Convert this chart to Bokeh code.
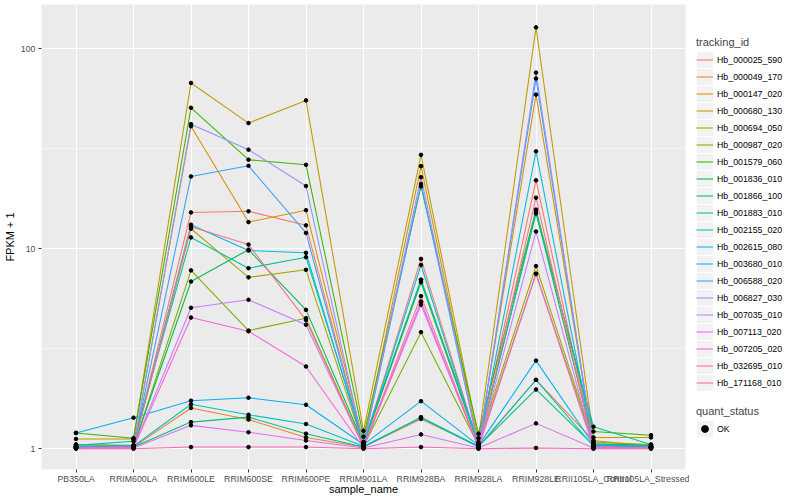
from bokeh.plotting import figure
from bokeh.layouts import row
from bokeh.models import FactorRange, Range1d, FixedTicker, Legend, LegendItem, PrintfTickFormatter
from bokeh.embed import file_html
from bokeh.resources import INLINE

samples = ["PB350LA", "RRIM600LA", "RRIM600LE", "RRIM600SE", "RRIM600PE", "RRIM901LA",
           "RRIM928BA", "RRIM928LA", "RRIM928LE", "RRII105LA_Control", "RRII105LA_Stressed"]

tracking_ids = ["Hb_000025_590", "Hb_000049_170", "Hb_000147_020", "Hb_000680_130", "Hb_000694_050",
                "Hb_000987_020", "Hb_001579_060", "Hb_001836_010", "Hb_001866_100", "Hb_001883_010",
                "Hb_002155_020", "Hb_002615_080", "Hb_003680_010", "Hb_006588_020", "Hb_006827_030",
                "Hb_007035_010", "Hb_007113_020", "Hb_007205_020", "Hb_032695_010", "Hb_171168_010"]

colors = ["#F8766D", "#EA8331", "#D89000", "#C09B00", "#A3A500", "#7CAE00", "#39B600", "#00BB4E",
          "#00BF7D", "#00C1A3", "#00BFC4", "#00BAE0", "#00B0F6", "#35A2FF", "#9590FF", "#C77CFF",
          "#E76BF3", "#FA62DB", "#FF62BC", "#FF6C91"]

# FPKM + 1 per sample (same order as samples)
hb_000025_590 = [1.02, 1.03, 15.2, 15.4, 13.1, 1.05, 8.9, 1.05, 22.0, 1.04, 1.02]
hb_000049_170 = [1.03, 1.02, 1.60, 1.40, 1.14, 1.02, 1.41, 1.03, 2.21, 1.10, 1.03]
hb_000147_020 = [1.05, 1.03, 41.0, 13.6, 15.6, 1.08, 25.9, 1.06, 59.0, 1.05, 1.02]
hb_000680_130 = [1.12, 1.12, 67.5, 42.5, 55.2, 1.23, 29.5, 1.13, 128.0, 1.14, 1.14]
hb_000694_050 = [1.05, 1.04, 12.6, 7.2, 7.85, 1.04, 7.0, 1.08, 8.2, 1.08, 1.05]
hb_000987_020 = [1.03, 1.02, 7.8, 3.9, 4.5, 1.03, 3.83, 1.04, 7.5, 1.05, 1.03]
hb_001579_060 = [1.20, 1.13, 50.7, 27.9, 26.3, 1.15, 20.5, 1.19, 15.7, 1.22, 1.17]
hb_001836_010 = [1.02, 1.03, 6.86, 9.9, 4.95, 1.06, 6.8, 1.04, 15.3, 1.06, 1.04]
hb_001866_100 = [1.01, 1.02, 1.36, 1.44, 1.19, 1.02, 1.44, 1.03, 1.98, 1.04, 1.02]
hb_001883_010 = [1.04, 1.09, 11.4, 8.0, 9.08, 1.08, 7.0, 1.05, 15.0, 1.29, 1.05]
hb_002155_020 = [1.02, 1.03, 1.67, 1.48, 1.33, 1.03, 1.43, 1.02, 2.21, 1.03, 1.02]
hb_002615_080 = [1.03, 1.04, 13.2, 9.8, 9.55, 1.05, 8.3, 1.04, 30.7, 1.04, 1.03]
hb_003680_010 = [1.20, 1.43, 1.74, 1.80, 1.66, 1.05, 1.73, 1.04, 2.76, 1.05, 1.02]
hb_006588_020 = [1.02, 1.03, 23.0, 26.0, 12.0, 1.04, 21.1, 1.03, 71.0, 1.03, 1.02]
hb_006827_030 = [1.01, 1.02, 42.0, 31.3, 20.6, 1.03, 22.8, 1.02, 76.0, 1.02, 1.01]
hb_007035_010 = [1.01, 1.02, 5.07, 5.56, 4.17, 1.02, 5.25, 1.02, 12.2, 1.02, 1.01]
hb_007113_020 = [1.01, 1.01, 1.31, 1.21, 1.10, 1.01, 1.18, 1.01, 1.34, 1.01, 1.01]
hb_007205_020 = [1.01, 1.01, 4.53, 3.87, 2.58, 1.01, 5.45, 1.01, 7.5, 1.01, 1.01]
hb_032695_010 = [1.00, 1.00, 1.02, 1.02, 1.02, 1.00, 1.02, 1.00, 1.01, 1.00, 1.00]
hb_171168_010 = [1.01, 1.02, 12.9, 10.5, 4.4, 1.02, 5.8, 1.02, 18.0, 1.02, 1.01]

series = [hb_000025_590, hb_000049_170, hb_000147_020, hb_000680_130, hb_000694_050,
          hb_000987_020, hb_001579_060, hb_001836_010, hb_001866_100, hb_001883_010,
          hb_002155_020, hb_002615_080, hb_003680_010, hb_006588_020, hb_006827_030,
          hb_007035_010, hb_007113_020, hb_007205_020, hb_032695_010, hb_171168_010]

y_ticks = [1, 10, 100]
quant_status = "OK"

FONT = "Liberation Sans"
FRAME_W, FRAME_H, TOP = 644, 465, 4
Y1 = 444.3  # pixel offset (from frame top) of value 1; one decade = 200 px
PT = 3.6

p = figure(x_range=FactorRange(factors=samples, range_padding=0.1, range_padding_units="absolute"),
           y_range=Range1d(10 ** (-(FRAME_H - Y1) / 200), 10 ** (Y1 / 200)),
           y_axis_type="log", frame_width=FRAME_W, frame_height=FRAME_H,
           min_border_left=32, min_border_right=4, min_border_top=TOP, min_border_bottom=20,
           output_backend="svg", toolbar_location=None)

p.background_fill_color = "#EBEBEB"
p.border_fill_color = "white"
p.outline_line_color = None

p.yaxis.ticker = FixedTicker(ticks=y_ticks, minor_ticks=[10 ** 0.5, 10 ** 1.5, 10 ** 2.5])
p.yaxis.formatter = PrintfTickFormatter(format="%d")
for ax in (p.xaxis[0], p.yaxis[0]):
    ax.axis_line_color = None
    ax.major_tick_line_color = "#333333"
    ax.major_tick_out = 3
    ax.major_tick_in = 0
    ax.minor_tick_line_color = None
    ax.major_label_text_font = FONT
    ax.major_label_text_font_size = "8.8px"
    ax.major_label_text_color = "#4D4D4D"
    ax.axis_label_text_font = FONT
    ax.axis_label_text_font_size = "11px"
    ax.axis_label_text_font_style = "normal"
    ax.axis_label_text_color = "black"
    ax.major_label_standoff = 2
    ax.axis_label_standoff = 2
p.xaxis.axis_label = "sample_name"
p.yaxis.axis_label = "FPKM + 1"
p.xaxis.major_label_standoff = 1
p.xaxis.axis_label_standoff = -4

p.xgrid.grid_line_color = "white"
p.xgrid.grid_line_width = 1.07
p.ygrid.grid_line_color = "white"
p.ygrid.grid_line_width = 1.07
p.ygrid.minor_grid_line_color = "white"
p.ygrid.minor_grid_line_width = 0.53

for col, vals in zip(colors, series):
    p.line(x=samples, y=vals, line_color=col, line_width=1.07)

xs = [s for vals in series for s in samples]
ys = [v for vals in series for v in vals]
p.scatter(x=xs, y=ys, marker="circle", size=PT, fill_color="black", line_color="black")

# ---- legend panel: axis-less figure; its range is in pixels from the frame bottom-left
LW = 104
lp = figure(x_range=Range1d(0, LW), y_range=Range1d(0, FRAME_H),
            frame_width=LW, frame_height=FRAME_H, min_border_top=TOP, min_border_bottom=20,
            min_border_left=0, min_border_right=0,
            x_axis_location=None, y_axis_location=None,
            output_backend="svg", toolbar_location=None)
lp.extra_y_ranges = {"off": Range1d(-10, -5)}  # keeps the key-only copies out of view
lp.background_fill_color = "white"
lp.border_fill_color = "white"
lp.outline_line_color = None
lp.grid.visible = False

KEY = 17
KX = 7               # key box left, px in legend panel
L1_BOTTOM = 78       # bottom of tracking_id legend, px above frame bottom
L2_BOTTOM = 32       # bottom of quant_status legend

# grey key backgrounds (ggplot legend.key)
n = len(tracking_ids)
kx = [KX + KEY / 2] * (n + 1)
ky = [L1_BOTTOM + KEY * (n - i) - KEY / 2 for i in range(n)] + [L2_BOTTOM + KEY / 2]
lp.rect(x=kx, y=ky, width=KEY - 1, height=KEY - 1, fill_color="#F2F2F2", line_color=None)

idx = list(range(len(samples)))
items = []
for tid, col, vals in zip(tracking_ids, colors, series):
    r = lp.line(x=idx, y=vals, line_color=col, line_width=1.07, y_range_name="off")
    items.append(LegendItem(label=tid, renderers=[r]))
pr = lp.scatter(x=idx * len(series), y=ys, marker="circle", size=PT, fill_color="black",
                line_color="black", y_range_name="off")


def make_legend(its, title, loc):
    return Legend(items=its, title=title, location=loc, orientation="vertical",
                  padding=0, margin=0, spacing=0, glyph_height=KEY, glyph_width=KEY,
                  label_height=KEY, label_standoff=4, title_standoff=3,
                  border_line_color=None, background_fill_alpha=0,
                  label_text_font=FONT, label_text_font_size="8.8px", label_text_color="black",
                  title_text_font=FONT, title_text_font_size="11px", title_text_font_style="normal")


lp.add_layout(make_legend(items, "tracking_id", (KX, L1_BOTTOM)), "center")
lp.add_layout(make_legend([LegendItem(label=quant_status, renderers=[pr])], "quant_status",
                          (KX, L2_BOTTOM)), "center")

layout = row(p, lp)
open("out.html", "w").write(file_html(layout, INLINE))
